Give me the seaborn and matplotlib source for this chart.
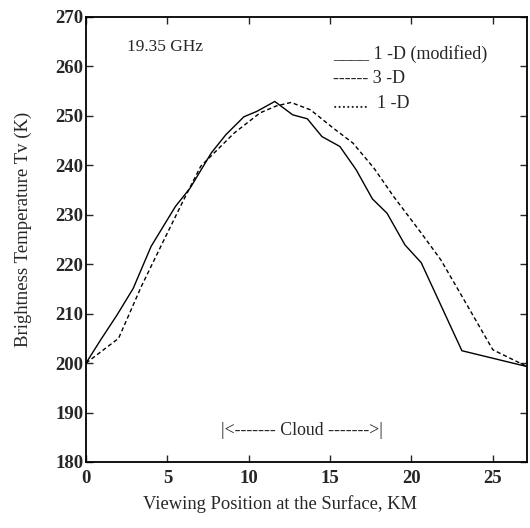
import numpy as np
import pandas as pd
import matplotlib
matplotlib.use("Agg")
import matplotlib.pyplot as plt
import seaborn as sns

# --- data ---
x_mod = [0, 0.9, 1.9, 2.9, 4.0, 5.5, 6.4, 7.7, 8.6, 9.7, 10.5, 11.6, 12.7, 13.6,
         14.5, 15.6, 16.6, 17.6, 18.5, 19.6, 20.6, 23.1, 27.1]
y_mod = [200, 204.7, 209.7, 215.1, 223.6, 231.7, 235.4, 242.5, 246.2, 249.8, 250.9,
         252.9, 250.2, 249.4, 245.8, 243.8, 239.1, 233.2, 230.3, 223.9, 220.3, 202.5,
         199.3]

x_3d = [0, 2.0, 3.4, 4.7, 6.0, 7.05, 9.1, 10.7, 11.7, 12.6, 13.8, 15.2, 16.4,
        17.7, 18.9, 20.6, 21.8, 23.0, 25.0, 27.1]
y_3d = [200, 205.0, 215.5, 224.3, 233.0, 239.8, 246.5, 250.6, 252.0, 252.7, 251.2,
        247.5, 244.5, 239.4, 233.7, 226.3, 220.9, 214.1, 202.7, 199.3]

series_names = ["1 -D (modified)", "3 -D"]
legend_labels = ["____ 1 -D (modified)", "------ 3 -D", "........  1 -D"]
x_ticks = [0, 5, 10, 15, 20, 25]
y_ticks = [180, 190, 200, 210, 220, 230, 240, 250, 260, 270]

df = pd.concat([
    pd.DataFrame({"x": x_mod, "y": y_mod, "model": series_names[0]}),
    pd.DataFrame({"x": x_3d, "y": y_3d, "model": series_names[1]}),
])

sns.set_style("ticks")
plt.rcParams["font.family"] = ["Liberation Serif", "DejaVu Serif"]

fig = plt.figure(figsize=(5.30, 5.28), dpi=100)
ax = fig.add_axes([0.1623, 0.125, 0.832, 0.843])

sns.lineplot(data=df, x="x", y="y", style="model", sort=False,
             dashes={series_names[0]: "", series_names[1]: (3, 2)},
             palette=["black", "black"], hue="model", linewidth=1.0,
             legend=False, ax=ax, estimator=None)

ax.set_xlim(0, 27.1)
ax.set_ylim(180, 270)
ax.set_xticks(x_ticks)
ax.set_yticks(y_ticks)
ax.tick_params(direction="in", top=True, right=True, length=5, width=1,
               labelsize=13.5)
ax.tick_params(axis="y", pad=2)
ax.tick_params(axis="x", pad=6)
for lab in ax.get_xticklabels() + ax.get_yticklabels():
    lab.set_fontweight("bold")
for sp in ax.spines.values():
    sp.set_linewidth(1.3)
    sp.set_color("black")

ax.set_xlabel("Viewing Position at the Surface, KM", fontsize=13.3)
ax.xaxis.set_label_coords(0.441, -0.075)
ax.set_ylabel("Brightness Temperature Tv (K)", fontsize=13.5, labelpad=17)
ax.yaxis.label.set_y(0.523)

ax.text(2.5, 264.0, "19.35 GHz", fontsize=12.5, va="center", ha="left")
for i, lab in enumerate(legend_labels):
    ax.text(15.2, 262.5 - 5.05 * i, lab, fontsize=13, va="center", ha="left")

ax.text(13.25, 186.4, "|<------- Cloud ------->|", fontsize=12.8, va="center",
        ha="center")

fig.savefig("out.png", dpi=100)
